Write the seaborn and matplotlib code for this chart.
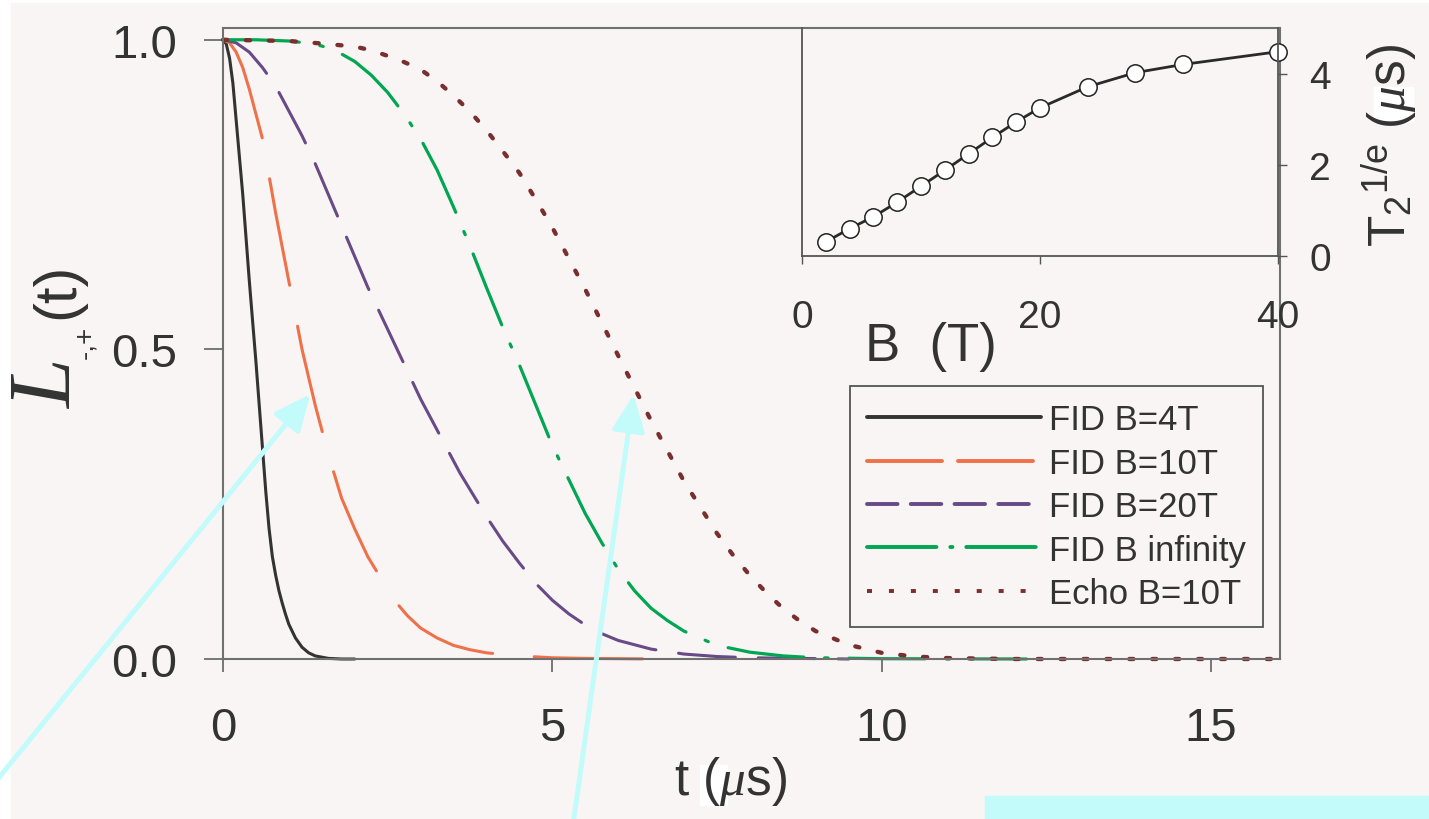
import matplotlib
matplotlib.use("Agg")
import matplotlib.pyplot as plt
import seaborn as sns
from matplotlib.lines import Line2D
from matplotlib.patches import FancyArrowPatch, Rectangle, ArrowStyle

# curves: t in microseconds, L(t)
t_b4 = [0, 0.05, 0.1, 0.15, 0.2, 0.25, 0.3, 0.35, 0.4, 0.45, 0.5, 0.55, 0.6, 0.65, 0.7, 0.75,
        0.8, 0.85, 0.9, 0.95, 1.0, 1.1, 1.2, 1.3, 1.4, 1.6, 1.8, 2.0]
L_b4 = [1.0, 0.993, 0.97, 0.93, 0.87, 0.81, 0.75, 0.68, 0.61, 0.545, 0.48, 0.41, 0.34, 0.27, 0.21,
        0.165, 0.135, 0.11, 0.09, 0.072, 0.056, 0.034, 0.019, 0.01, 0.005, 0.001, 0.0, 0.0]

t_b10 = [0, 0.1, 0.2, 0.3, 0.4, 0.5, 0.6, 0.7, 0.8, 0.9, 1.0, 1.1, 1.2, 1.3, 1.4, 1.5, 1.6, 1.8,
         2.0, 2.2, 2.4, 2.6, 2.8, 3.0, 3.25, 3.5, 3.75, 4.0, 4.5, 5.0, 5.5, 6.6]
L_b10 = [1.0, 0.995, 0.98, 0.955, 0.92, 0.88, 0.84, 0.78, 0.72, 0.665, 0.61, 0.555, 0.50, 0.455,
         0.41, 0.37, 0.33, 0.26, 0.21, 0.165, 0.13, 0.095, 0.07, 0.05, 0.034, 0.022, 0.015, 0.01,
         0.005, 0.002, 0.001, 0.0]

t_b20 = [0, 0.2, 0.4, 0.6, 0.8, 1.0, 1.2, 1.4, 1.6, 1.8, 2.0, 2.2, 2.4, 2.6, 2.8, 3.0, 3.2, 3.4,
         3.6, 3.8, 4.0, 4.25, 4.5, 4.75, 5.0, 5.25, 5.5, 5.75, 6.0, 6.5, 7.0, 7.5, 8.0, 9.5]
L_b20 = [1.0, 0.995, 0.98, 0.955, 0.925, 0.885, 0.845, 0.80, 0.75, 0.70, 0.65, 0.60, 0.555, 0.51,
         0.465, 0.42, 0.38, 0.34, 0.30, 0.265, 0.23, 0.19, 0.155, 0.122, 0.095, 0.073, 0.055, 0.041,
         0.03, 0.016, 0.008, 0.004, 0.002, 0.0]

t_binf = [0, 0.5, 1.0, 1.25, 1.5, 1.75, 2.0, 2.25, 2.5, 2.75, 3.0, 3.25, 3.5, 3.75, 4.0, 4.25, 4.5,
          4.75, 5.0, 5.25, 5.5, 5.75, 6.0, 6.25, 6.5, 6.75, 7.0, 7.5, 8.0, 8.5, 9.0, 10.0, 12.2]
L_binf = [1.0, 1.0, 0.998, 0.995, 0.99, 0.98, 0.965, 0.943, 0.915, 0.88, 0.84, 0.79, 0.73, 0.667,
          0.60, 0.535, 0.475, 0.41, 0.345, 0.29, 0.235, 0.188, 0.145, 0.11, 0.082, 0.062, 0.045,
          0.022, 0.011, 0.005, 0.002, 0.0005, 0.0]

t_echo = [0, 1.0, 1.5, 2.0, 2.25, 2.5, 2.75, 3.0, 3.25, 3.5, 3.75, 4.0, 4.25, 4.5, 4.75, 5.0, 5.5,
          6.0, 6.5, 7.0, 7.5, 7.75, 8.0, 8.25, 8.5, 8.75, 9.0, 9.5, 10.0, 10.5, 11.0, 12.0, 16.0]
L_echo = [1.0, 0.998, 0.994, 0.989, 0.983, 0.974, 0.964, 0.952, 0.933, 0.91, 0.884, 0.854, 0.82,
          0.785, 0.742, 0.697, 0.597, 0.49, 0.385, 0.287, 0.203, 0.167, 0.135, 0.107, 0.082, 0.062,
          0.045, 0.023, 0.010, 0.004, 0.0015, 0.0, 0.0]

labels = ["FID B=4T", "FID B=10T", "FID B=20T", "FID B infinity", "Echo B=10T"]

# inset: T2 (1/e) vs field
B_field = [2, 4, 6, 8, 10, 12, 14, 16, 18, 20, 24, 28, 32, 40]
T2 = [0.31, 0.60, 0.86, 1.18, 1.53, 1.88, 2.24, 2.60, 2.94, 3.25, 3.71, 4.02, 4.20, 4.48]

BG = "#f9f5f4"
TXT = "#333333"
colors = ["#333333", "#ef7149", "#674a86", "#00a651", "#7a2e2e"]
# dash patterns in points (scale_dashes off)
styles = ["-", (0, (78, 30)), (0, (41, 16.5)), (0, (55, 15, 2.5, 15)), (0, (3, 13.5))]
widths = [2.2, 2.2, 2.2, 2.3, 3.1]
leg_styles = ["-", (0, (54, 11.5)), (0, (22, 9.5)), (0, (50, 10, 1.5, 10)), (0, (3.6, 12.2))]
leg_caps = ["round", "round", "round", "round", "butt"]

sns.set_theme(style="ticks")
plt.rcParams["font.family"] = ["Liberation Sans", "DejaVu Sans"]
plt.rcParams["mathtext.fontset"] = "custom"
plt.rcParams["mathtext.rm"] = "Liberation Sans"
plt.rcParams["mathtext.it"] = "Liberation Serif:italic"
plt.rcParams["lines.scale_dashes"] = False
plt.rcParams["text.color"] = TXT

W, H = 1429, 820
fig = plt.figure(figsize=(W / 100, H / 100), dpi=100)
fig.patch.set_facecolor("white")
fig.add_artist(Rectangle((11 / W, 0), 1, 1 - 4 / H, transform=fig.transFigure,
                         color=BG, zorder=-10))

# main panel
ax = fig.add_axes([223 / W, 1 - 660 / H, (1280 - 223) / W, (660 - 29) / H])
ax.set_facecolor("none")
series = [(t_b4, L_b4), (t_b10, L_b10), (t_b20, L_b20), (t_binf, L_binf), (t_echo, L_echo)]
for (tt, LL), c, ls, lw in zip(series, colors, styles, widths):
    sns.lineplot(x=tt, y=LL, ax=ax, color=c, lw=lw, linestyle=ls, errorbar=None,
                 dash_capstyle="round", clip_on=False, legend=False)

ax.set_xlim(0, 16.05)
ax.set_ylim(0, 1.019)
ax.set_xticks([0, 5, 10, 15])
ax.set_yticks([0, 0.5, 1.0])
ax.set_yticklabels(["0.0", "0.5", "1.0"])
ax.set_xlabel("")
ax.set_ylabel("")
for s in ax.spines.values():
    s.set_color("#707070")
    s.set_linewidth(1.5)
ax.tick_params(axis="x", direction="out", length=9.5, width=1.1, color="#555555",
               labelsize=34, pad=24, labelcolor=TXT)
ax.tick_params(axis="y", direction="out", length=14, width=1.1, color="#555555",
               labelsize=34, pad=19, labelcolor=TXT)

handles = [Line2D([], [], color=c, lw=2.8, linestyle=ls, dash_capstyle=cap)
           for c, ls, cap in zip(colors, leg_styles, leg_caps)]
leg = ax.legend(handles, labels, loc="upper left", bbox_to_anchor=(850 / W, 1 - 387 / H),
                bbox_transform=fig.transFigure, borderaxespad=0, frameon=True, fancybox=False,
                edgecolor="#555555", facecolor=BG, framealpha=1, fontsize=25,
                handlelength=5.0, handletextpad=0.22, borderpad=0.5, labelspacing=0.3)
leg.get_frame().set_linewidth(1.3)
for txt in leg.get_texts():
    txt.set_color(TXT)

# inset
axin = fig.add_axes([802 / W, 1 - 257 / H, 476 / W, 228 / H])
axin.set_facecolor("none")
sns.lineplot(x=B_field, y=T2, ax=axin, color="#2a2a2a", lw=2.0, marker="o", markersize=12.5,
             markerfacecolor="white", markeredgecolor="#222222", markeredgewidth=1.1,
             errorbar=None, clip_on=False, legend=False)
axin.set_xlim(0, 40)
axin.set_ylim(0, 5)
axin.set_xticks([0, 20, 40])
axin.set_yticks([0, 2, 4])
axin.yaxis.tick_right()
axin.set_xlabel("")
axin.set_ylabel("")
axin.spines["top"].set_visible(False)
for k in ["left", "right", "bottom"]:
    axin.spines[k].set_color("#555555")
    axin.spines[k].set_linewidth(1.3)
axin.tick_params(axis="x", direction="out", length=6, width=1.0, color="#555555",
                 labelsize=28, pad=25, labelcolor=TXT)
axin.tick_params(axis="y", direction="out", length=6.5, width=1.0, color="#555555",
                 labelsize=28, pad=16, labelcolor=TXT)

# axis labels
fig.text(50 / W, 1 - 384 / H, "L", family="Liberation Serif", style="italic", fontsize=64,
         rotation=90, ha="center", va="center")
fig.text(85 / W, 1 - 342 / H, "-,+", fontsize=20, rotation=90, ha="center", va="center")
fig.text(58 / W, 1 - 291 / H, "(t)", fontsize=43, rotation=90, ha="center", va="center")

# white patches behind the mu signs, as in the source figure
fig.add_artist(Rectangle((700 / W, 1 - 806 / H), 27 / W, 40 / H, transform=fig.transFigure,
                         color="white", zorder=2))
fig.add_artist(Rectangle((1374 / W, 1 - 122 / H), 39 / W, 34 / H, transform=fig.transFigure,
                         color="white", zorder=2))
fig.text(731 / W, 1 - 782 / H, r"t ($\mu$s)", fontsize=37, ha="center", va="center", zorder=3)
fig.text(931 / W, 1 - 347 / H, "B  (T)", fontsize=38, ha="center", va="center")
fig.text(1390 / W, 1 - 145 / H, r"T$_2$$^{\mathregular{1/e}}$ ($\mu$s)", fontsize=37,
         rotation=90, ha="center", va="center", zorder=3)

# cyan annotation arrows and strip
cyan = "#c3fbfb"
style = ArrowStyle("-|>", head_length=22, head_width=10)
for a, b in [((-20, 802), (312, 393)), ((571, 840), (634, 393))]:
    fig.add_artist(FancyArrowPatch((a[0] / W, 1 - a[1] / H), (b[0] / W, 1 - b[1] / H),
                                   transform=fig.transFigure, arrowstyle=style,
                                   mutation_scale=1, color=cyan, lw=3.6, zorder=10))
fig.add_artist(Rectangle((985 / W, 0), 444 / W, 23 / H, transform=fig.transFigure,
                         color=cyan, zorder=10))

fig.savefig("out.png", dpi=100)
